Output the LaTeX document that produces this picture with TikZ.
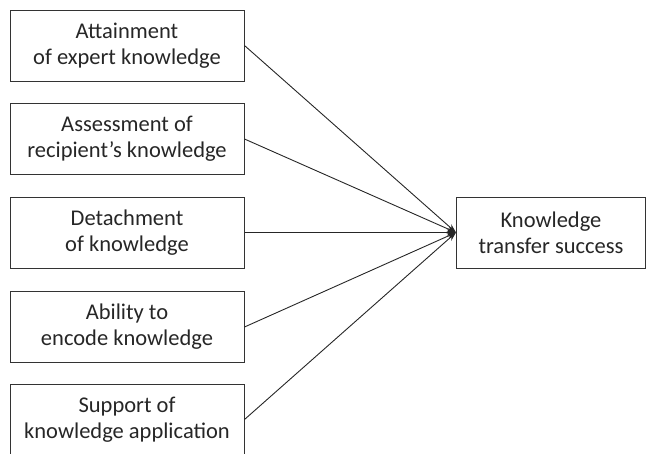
\documentclass[tikz,border=0pt]{standalone}
\usepackage{fontspec}
\setmainfont{Carlito}
\usetikzlibrary{arrows.meta}
\begin{document}
\begin{tikzpicture}[x=1pt,y=-1pt,
  factor/.style={draw=black!80,line width=1pt,minimum width=234pt,minimum height=71pt,
    align=center,inner sep=0pt,font=\fontsize{22.5}{26}\selectfont,text=black!85},
  result/.style={factor,minimum width=189pt},
  link/.style={draw=black!85,line width=0.9pt,-{Stealth[length=9pt,width=6pt]}}]
\useasboundingbox (0,0) rectangle (647,453);
\clip (0,0) rectangle (647,453);
\node[factor] (f1) at (127,45.5) {Attainment\\of expert knowledge};
\node[factor] (f2) at (127,139) {Assessment of\\recipient’s knowledge};
\node[factor] (f3) at (127,232.5) {Detachment\\of knowledge};
\node[factor] (f4) at (127,327) {Ability to\\encode knowledge};
\node[factor] (f5) at (127,419.5) {Support of\\knowledge application};
\node[result] (r) at (551,232.5) {Knowledge\\transfer success};
\foreach \i in {1,...,5}
  \draw[link] (f\i.east) -- (r.west);
\end{tikzpicture}
\end{document}
